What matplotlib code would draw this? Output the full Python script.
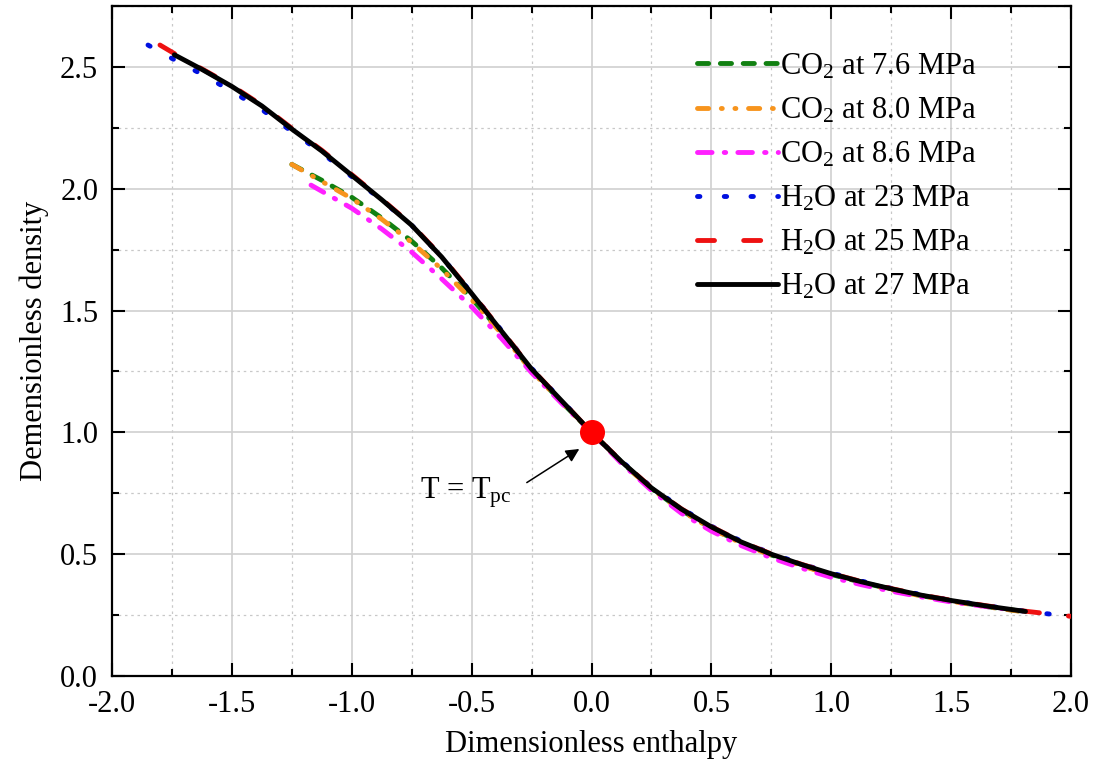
import matplotlib
matplotlib.use('Agg')
import matplotlib.pyplot as plt
from matplotlib.ticker import MultipleLocator

plt.rcParams['font.family'] = ['Liberation Serif', 'DejaVu Serif']
plt.rcParams['mathtext.default'] = 'regular'

# CO2 curves
co2_76_x = [-1.25, -1.125, -1.0, -0.875, -0.75, -0.625, -0.5, -0.375, -0.25, -0.125, 0.0,
            0.125, 0.25, 0.375, 0.5, 0.625, 0.75, 0.875, 1.0, 1.125, 1.25, 1.375, 1.5, 1.65, 1.8]
co2_76_y = [2.10, 2.035, 1.965, 1.88, 1.785, 1.675, 1.55, 1.41, 1.255, 1.125, 1.0,
            0.878, 0.77, 0.68, 0.607, 0.547, 0.497, 0.455, 0.417, 0.385, 0.356, 0.33, 0.308, 0.285, 0.265]

co2_80_x = [-1.25, -1.125, -1.0, -0.875, -0.75, -0.625, -0.5, -0.375, -0.25, -0.125, 0.0,
            0.125, 0.25, 0.375, 0.5, 0.625, 0.75, 0.875, 1.0, 1.125, 1.25, 1.375, 1.5, 1.65, 1.8]
co2_80_y = [2.10, 2.03, 1.96, 1.875, 1.78, 1.67, 1.545, 1.405, 1.253, 1.123, 1.0,
            0.877, 0.768, 0.678, 0.605, 0.545, 0.495, 0.453, 0.415, 0.383, 0.354, 0.329, 0.307, 0.284, 0.264]

co2_86_x = [-1.17, -1.0, -0.875, -0.75, -0.625, -0.5, -0.375, -0.25, -0.125, 0.0,
            0.125, 0.25, 0.375, 0.5, 0.625, 0.75, 0.875, 1.0, 1.125, 1.25, 1.375, 1.5, 1.75]
co2_86_y = [2.015, 1.92, 1.835, 1.74, 1.63, 1.515, 1.385, 1.245, 1.12, 1.0,
            0.873, 0.762, 0.668, 0.595, 0.535, 0.485, 0.443, 0.405, 0.375, 0.348, 0.325, 0.304, 0.272]

# H2O curves
h2o_23_x = [-1.85, -1.75, -1.625, -1.5, -1.375, -1.25, -1.125, -1.0, -0.875, -0.75, -0.625, -0.5,
            -0.375, -0.25, -0.125, 0.0, 0.125, 0.25, 0.375, 0.5, 0.625, 0.75, 0.875, 1.0,
            1.125, 1.25, 1.375, 1.5, 1.65, 1.8, 1.95]
h2o_23_y = [2.59, 2.535, 2.47, 2.40, 2.325, 2.235, 2.148, 2.05, 1.953, 1.85, 1.72, 1.572,
            1.418, 1.263, 1.132, 1.0, 0.882, 0.775, 0.688, 0.615, 0.553, 0.503, 0.46, 0.423,
            0.39, 0.36, 0.334, 0.311, 0.288, 0.267, 0.25]

h2o_25_x = [-1.80, -1.74, -1.625, -1.5, -1.375, -1.25, -1.125, -1.0, -0.875, -0.75, -0.625, -0.5,
            -0.375, -0.25, -0.125, 0.0, 0.125, 0.25, 0.375, 0.5, 0.625, 0.75, 0.875, 1.0,
            1.125, 1.25, 1.375, 1.5, 1.65, 1.81, 2.0]
h2o_25_y = [2.59, 2.555, 2.492, 2.423, 2.343, 2.248, 2.158, 2.058, 1.957, 1.852, 1.722, 1.572,
            1.417, 1.261, 1.131, 1.0, 0.881, 0.773, 0.686, 0.613, 0.551, 0.501, 0.459, 0.421,
            0.388, 0.359, 0.333, 0.311, 0.288, 0.266, 0.245]

h2o_27_x = [-1.74, -1.625, -1.5, -1.375, -1.25, -1.125, -1.0, -0.875, -0.75, -0.625, -0.5,
            -0.375, -0.25, -0.125, 0.0, 0.125, 0.25, 0.375, 0.5, 0.625, 0.75, 0.875, 1.0,
            1.125, 1.25, 1.375, 1.5, 1.65, 1.81]
h2o_27_y = [2.55, 2.49, 2.42, 2.34, 2.245, 2.155, 2.055, 1.955, 1.85, 1.72, 1.57,
            1.415, 1.26, 1.13, 1.0, 0.88, 0.772, 0.685, 0.612, 0.55, 0.50, 0.458, 0.42,
            0.387, 0.358, 0.332, 0.31, 0.287, 0.265]

fig = plt.figure(figsize=(10.93, 7.67), dpi=100)
ax = fig.add_axes([0.1025, 0.1186, 0.8774, 0.8735])

lw = 3.5
ax.plot(co2_76_x, co2_76_y, color='#118011', lw=lw, dashes=(2.3, 2.4),
        dash_capstyle='round', label='CO$_2$ at 7.6 MPa', zorder=3)
ax.plot(co2_80_x, co2_80_y, color='#f7941d', lw=lw, dashes=(2.3, 2.6, 0.2, 2.6, 0.2, 2.6),
        dash_capstyle='round', label='CO$_2$ at 8.0 MPa', zorder=3)
ax.plot(co2_86_x, co2_86_y, color='#ff20ff', lw=lw, dashes=(3.0, 2.5, 0.3, 2.5),
        dash_capstyle='round', label='CO$_2$ at 8.6 MPa', zorder=3)
ax.plot(h2o_23_x, h2o_23_y, color='#0010e0', lw=lw, dashes=(0.5, 5.0),
        dash_capstyle='round', label='H$_2$O at 23 MPa', zorder=4)
ax.plot(h2o_25_x, h2o_25_y, color='#ee1111', lw=lw, dashes=(3.5, 6.0),
        dash_capstyle='round', label='H$_2$O at 25 MPa', zorder=4)
ax.plot(h2o_27_x, h2o_27_y, color='black', lw=lw, solid_capstyle='round',
        label='H$_2$O at 27 MPa', zorder=5)

# pseudo-critical point
ax.plot([0.0], [1.0], 'o', color='#ff0000', markersize=17, zorder=6)
ax.annotate('', xy=(-0.051, 0.932), xytext=(-0.27, 0.794),
            arrowprops=dict(arrowstyle='-|>', color='black', lw=1.1, mutation_scale=20,
                            shrinkA=0, shrinkB=0), zorder=6)
ax.text(-0.715, 0.729, 'T = T$_{pc}$', fontsize=22, va='baseline', ha='left')

ax.set_xlim(-2.0, 2.0)
ax.set_ylim(0.0, 2.75)
ax.xaxis.set_major_locator(MultipleLocator(0.5))
ax.xaxis.set_minor_locator(MultipleLocator(0.25))
ax.yaxis.set_major_locator(MultipleLocator(0.5))
ax.yaxis.set_minor_locator(MultipleLocator(0.25))
ax.xaxis.set_major_formatter(plt.FuncFormatter(lambda v, p: f'{v:.1f}'))
ax.yaxis.set_major_formatter(plt.FuncFormatter(lambda v, p: f'{v:.1f}'))

ax.grid(which='major', color='#d0d0d0', lw=1.2, ls='-')
ax.grid(which='minor', color='#c8c8c8', lw=0.9, ls=(0, (2, 3)))
ax.set_axisbelow(True)

ax.tick_params(which='both', direction='in', top=True, right=True, width=1.5,
               labelsize=22, pad=10)
ax.tick_params(which='major', length=9.5)
ax.tick_params(which='minor', length=5)
for s in ax.spines.values():
    s.set_linewidth(1.6)

ax.set_xlabel('Dimensionless enthalpy', fontsize=22, labelpad=8)
ax.set_ylabel('Demensionless density', fontsize=22, labelpad=8)

ax.legend(loc='upper left', bbox_to_anchor=(0.61, 0.932), frameon=False, fontsize=22,
          handlelength=2.65, handletextpad=0.05, labelspacing=0.48, borderpad=0,
          borderaxespad=0)

fig.savefig('out.png', dpi=100)
